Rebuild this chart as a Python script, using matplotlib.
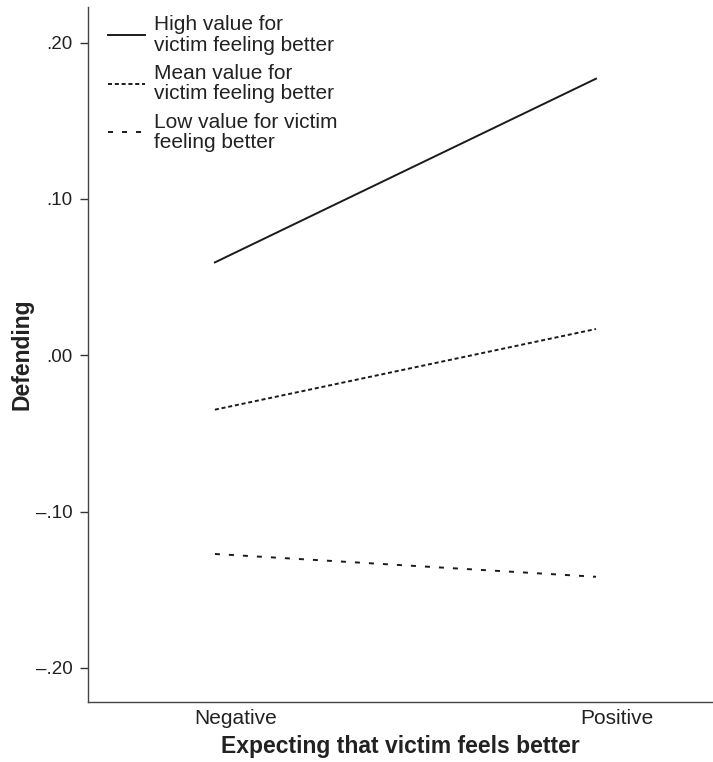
import numpy as np
import matplotlib.pyplot as plt
import matplotlib.transforms as mtransforms

plt.rcParams['font.family'] = ['Liberation Sans', 'DejaVu Sans']
plt.rcParams['lines.scale_dashes'] = False

# data
categories = ['Negative', 'Positive']
high_vals = [0.0594, 0.1769]
mean_vals = [-0.0348, 0.0168]
low_vals = [-0.1271, -0.1417]
series_names = ['High value for\nvictim feeling better',
                'Mean value for\nvictim feeling better',
                'Low value for victim\nfeeling better']
yticks = [-0.2, -0.1, 0.0, 0.1, 0.2]
ytick_labels = ['\u2013.20', '\u2013.10', '.00', '.10', '.20']

fig = plt.figure(figsize=(7.13, 7.62), dpi=100)
ax = fig.add_axes([0.1234, 0.0787, 0.8766, 0.912])

x = np.arange(len(categories))
ink = '#1a1a1a'
ax.plot(x, high_vals, color=ink, lw=1.4, label=series_names[0])
ax.plot(x, mean_vals, color=ink, lw=1.4, dashes=(2.9, 2.0), label=series_names[1])
ax.plot(x, low_vals, color=ink, lw=1.4, dashes=(3.6, 6.5), label=series_names[2])

ax.set_xlim(-0.333, 1.307)
ax.set_ylim(-0.2218, 0.2227)

ax.set_yticks(yticks)
ax.set_yticklabels(ytick_labels, fontsize=13.5, color='#222222')
ax.tick_params(axis='y', direction='out', length=6, width=1, color='#333333', pad=5)

ax.set_xticks(x)
ax.set_xticklabels(categories, fontsize=15, color='#222222')
ax.tick_params(axis='x', length=0, pad=5)
# SPSS puts the category labels a bit right of the line ends
shift = mtransforms.ScaledTranslation(0.21, 0, fig.dpi_scale_trans)
for lab in ax.get_xticklabels():
    lab.set_transform(lab.get_transform() + shift)

for s in ['top', 'right']:
    ax.spines[s].set_visible(False)
for s in ['left', 'bottom']:
    ax.spines[s].set_color('#444444')
    ax.spines[s].set_linewidth(1.0)

ax.set_ylabel('Defending', fontsize=16.5, fontweight='bold', color='#222222')
ax.set_xlabel('Expecting that victim feels better', fontsize=16.5, fontweight='bold',
              color='#222222')
ax.yaxis.set_label_coords(-0.087, 0.5)
ax.xaxis.set_label_coords(0.5, -0.047)

leg = ax.legend(loc='upper left', frameon=False, fontsize=15, handlelength=1.78,
                handletextpad=0.4, borderaxespad=0.2, borderpad=0.2, labelspacing=0.45,
                bbox_to_anchor=(0.019, 1.0))
for t in leg.get_texts():
    t.set_linespacing(1.08)
    t.set_color('#222222')

fig.savefig('out.png', dpi=100)
